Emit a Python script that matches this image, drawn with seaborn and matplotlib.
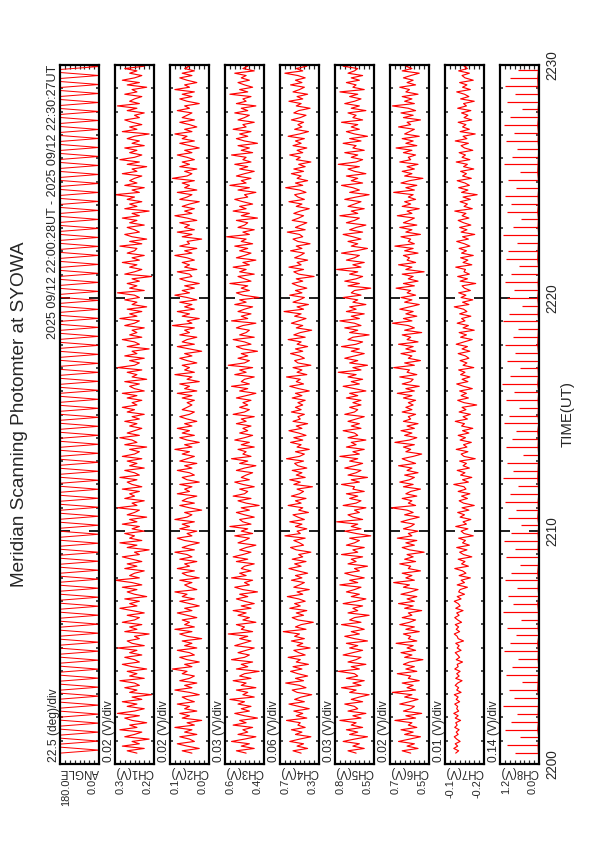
import numpy as np
import matplotlib
matplotlib.use("Agg")
import matplotlib.pyplot as plt
import seaborn as sns

TITLE = "Meridian Scanning Photomter at SYOWA"
SUBTITLE = "2025 09/12 22:00:28UT - 2025 09/12 22:30:27UT"
XLABEL = "TIME(UT)"
time_ticks = [0, 10, 20, 30]
time_tick_labels = ["2200", "2210", "2220", "2230"]
t_start, t_end = 28 / 60, 30 + 27 / 60

channel_names = ["ANGLE", "CH1(V)", "CH2(V)", "CH3(V)", "CH4(V)", "CH5(V)", "CH6(V)", "CH7(V)", "CH8(V)"]
per_div_labels = ["22.5 (deg)/div", "0.02 (V)/div", "0.02 (V)/div", "0.03 (V)/div", "0.06 (V)/div",
                  "0.03 (V)/div", "0.02 (V)/div", "0.01 (V)/div", "0.14 (V)/div"]
per_div = [22.5, 0.02, 0.02, 0.03, 0.06, 0.03, 0.02, 0.01, 0.14]
axis_lo = [0.0, 0.18, -0.02, 0.38, 0.26, 0.54, 0.54, -0.18, 0.04]
max_labels = ["180.0", "0.3", "0.1", "0.6", "0.7", "0.8", "0.7", "-0.1", "1.2"]
min_labels = ["0.0", "0.2", "0.0", "0.4", "0.3", "0.5", "0.5", "-0.2", "0.0"]

# scan angle (deg): one quick 180 -> 0 -> 180 sweep per scan, 78 scans
angle = [180, 0, 180, 180, 0, 180, 180, 0, 180, 180, 0, 180, 180, 0, 180, 180, 0, 180, 180, 0, 180, 180, 0, 180,
         180, 0, 180, 180, 0, 180, 180, 0, 180, 180, 0, 180, 180, 0, 180, 180, 0, 180, 180, 0, 180, 180, 0, 180,
         180, 0, 180, 180, 0, 180, 180, 0, 180, 180, 0, 180, 180, 0, 180, 180, 0, 180, 180, 0, 180, 180, 0, 180,
         180, 0, 180, 180, 0, 180, 180, 0, 180, 180, 0, 180, 180, 0, 180, 180, 0, 180, 180, 0, 180, 180, 0, 180,
         180, 0, 180, 180, 0, 180, 180, 0, 180, 180, 0, 180, 180, 0, 180, 180, 0, 180, 180, 0, 180, 180, 0, 180,
         180, 0, 180, 180, 0, 180, 180, 0, 180, 180, 0, 180, 180, 0, 180, 180, 0, 180, 180, 0, 180, 180, 0, 180,
         180, 0, 180, 180, 0, 180, 180, 0, 180, 180, 0, 180, 180, 0, 180, 180, 0, 180, 180, 0, 180, 180, 0, 180,
         180, 0, 180, 180, 0, 180, 180, 0, 180, 180, 0, 180, 180, 0, 180, 180, 0, 180, 180, 0, 180, 180, 0, 180,
         180, 0, 180, 180, 0, 180, 180, 0, 180, 180, 0, 180, 180, 0, 180, 180, 0, 180, 180, 0, 180, 180, 0, 180,
         180, 0, 180, 180, 0, 180, 180, 0, 180, 180, 0, 180, 180, 0, 180, 180, 0, 180]

ch1 = [0.25,0.29,0.22,0.31,0.24,0.27,0.20,0.30,0.26,0.23,0.32,0.25,0.28,0.21,0.27,0.30,0.24,0.33,0.26,0.22,
       0.29,0.25,0.31,0.23,0.27,0.19,0.28,0.25,0.30,0.24,0.26,0.32,0.22,0.28,0.25,0.29,0.21,0.27,0.31,0.24,
       0.26,0.30,0.23,0.28,0.25,0.33,0.22,0.27,0.29,0.24,0.26,0.20,0.30,0.25,0.28,0.23,0.31,0.26,0.24,0.29,
       0.22,0.27,0.32,0.25,0.28,0.24,0.30,0.21,0.26,0.29,0.25,0.31,0.23,0.27,0.34,0.24,0.28,0.26,0.22,0.30,
       0.25,0.29,0.23,0.27,0.31,0.24,0.26,0.20,0.29,0.25,0.32,0.23,0.28,0.26,0.30,0.22,0.27,0.24,0.31,0.25,
       0.28,0.21,0.29,0.26,0.24,0.33,0.25,0.27,0.22,0.30,0.26,0.28,0.24,0.31,0.23,0.27,0.29,0.25,0.32,0.24,
       0.26,0.30,0.22,0.28,0.25,0.29,0.23,0.31,0.26,0.24,0.28,0.21,0.30,0.25,0.27,0.32,0.24,0.29,0.26,0.23,
       0.28,0.25,0.30,0.24,0.27,0.22,0.29,0.26,0.31,0.25,
       0.27,0.23,0.29,0.25,0.31,0.22,0.26,0.28,0.24,0.30,0.21,0.27,0.25,0.29,0.23,0.33,0.26,0.24,0.28,0.22,
       0.30,0.25,0.27,0.20,0.29,0.24,0.26,0.31,0.23,0.28,0.25,0.27,0.22,0.30,0.26,0.24,0.32,0.25,0.28,0.23,
       0.29,0.21,0.27,0.25,0.30,0.24,0.26,0.33,0.22,0.28,0.25,0.29,0.24,0.27,0.19,0.30,0.26,0.23,0.28,0.25,
       0.31,0.24,0.27,0.22,0.29,0.26,0.25,0.32,0.23,0.28,0.21,0.27,0.30,0.24,0.26,0.29,0.22,0.28,0.25,0.31,
       0.24,0.27,0.20,0.30,0.25,0.28,0.23,0.29,0.26,0.34,0.24,0.27,0.22,0.30,0.25,0.28,0.26,0.23,0.31,0.25,
       0.27,0.21,0.29,0.24,0.32,0.26,0.23,0.28,0.25,0.30,0.22,0.27,0.24,0.29,0.26,0.20,0.31,0.25,0.28,0.23,
       0.27,0.30,0.24,0.26,0.22,0.29,0.25,0.33,0.24,0.28,0.26,0.23,0.30,0.25,0.27,0.21,0.29,0.24,0.31,0.26,
       0.23,0.28,0.25,0.30,0.22,0.27,0.26,0.29,0.24,0.28]

ch2 = [0.05,0.09,0.02,0.07,0.11,0.04,0.06,0.10,0.03,0.08,0.05,0.12,0.04,0.07,0.01,0.09,0.06,0.10,0.03,0.08,
       0.06,0.11,0.04,0.07,0.09,0.02,0.06,0.12,0.05,0.08,0.03,0.10,0.06,0.04,0.09,0.07,0.13,0.05,0.08,0.02,
       0.07,0.10,0.04,0.06,0.11,0.03,0.08,0.05,0.09,0.01,0.07,0.10,0.05,0.12,0.04,0.08,0.06,0.09,0.03,0.07,
       0.11,0.05,0.08,0.02,0.06,0.10,0.04,0.09,0.07,0.12,0.03,0.06,0.08,0.05,0.10,0.02,0.07,0.09,0.04,0.11,
       0.06,0.08,0.03,0.10,0.05,0.07,0.12,0.04,0.09,0.06,0.02,0.08,0.11,0.05,0.07,0.03,0.10,0.06,0.09,0.04,
       0.12,0.07,0.05,0.08,0.01,0.06,0.10,0.04,0.09,0.07,0.03,0.11,0.06,0.08,0.05,0.10,0.02,0.07,0.09,0.04,
       0.06,0.11,0.05,0.08,0.03,0.10,0.07,0.04,0.09,0.06,0.12,0.05,0.08,0.02,0.07,0.10,0.04,0.09,0.06,0.11,
       0.05,0.08,0.03,0.07,0.10,0.06,0.04,0.09,0.07,0.05,
       0.07,0.04,0.09,0.05,0.11,0.03,0.08,0.06,0.10,0.02,0.07,0.05,0.12,0.04,0.08,0.06,0.09,0.03,0.07,0.10,
       0.05,0.08,0.01,0.06,0.11,0.04,0.09,0.07,0.03,0.10,0.06,0.08,0.04,0.13,0.05,0.07,0.02,0.09,0.06,0.11,
       0.04,0.08,0.05,0.10,0.03,0.07,0.12,0.06,0.09,0.04,0.08,0.02,0.07,0.10,0.05,0.06,0.11,0.03,0.08,0.06,
       0.09,0.04,0.07,0.12,0.05,0.08,0.03,0.10,0.06,0.07,0.01,0.09,0.05,0.11,0.04,0.08,0.06,0.10,0.03,0.07,
       0.12,0.05,0.08,0.04,0.09,0.06,0.02,0.10,0.07,0.05,0.11,0.03,0.08,0.06,0.09,0.04,0.13,0.07,0.05,0.08,
       0.03,0.10,0.06,0.09,0.04,0.07,0.11,0.05,0.08,0.02,0.06,0.10,0.04,0.09,0.07,0.12,0.05,0.08,0.03,0.06,
       0.10,0.04,0.09,0.07,0.05,0.11,0.06,0.08,0.02,0.07,0.10,0.05,0.09,0.04,0.12,0.06,0.08,0.03,0.07,0.10,
       0.05,0.09,0.04,0.08,0.06,0.11,0.03,0.07,0.05,0.09]

ch3 = [0.49,0.55,0.44,0.52,0.47,0.58,0.50,0.43,0.54,0.48,0.51,0.45,0.57,0.49,0.53,0.42,0.50,0.56,0.47,0.52,
       0.46,0.54,0.50,0.59,0.44,0.51,0.48,0.55,0.43,0.52,0.49,0.57,0.46,0.53,0.50,0.41,0.55,0.48,0.52,0.45,
       0.58,0.50,0.47,0.54,0.49,0.44,0.56,0.51,0.46,0.53,0.48,0.60,0.45,0.52,0.50,0.55,0.43,0.51,0.47,0.54,
       0.49,0.57,0.46,0.52,0.44,0.50,0.55,0.48,0.53,0.42,0.51,0.56,0.47,0.50,0.45,0.58,0.49,0.53,0.46,0.52,
       0.50,0.44,0.55,0.48,0.57,0.51,0.46,0.53,0.49,0.43,0.54,0.50,0.47,0.56,0.45,0.52,0.48,0.59,0.46,0.51,
       0.53,0.44,0.50,0.55,0.47,0.52,0.41,0.49,0.54,0.46,0.57,0.50,0.48,0.53,0.44,0.51,0.56,0.47,0.52,0.49,
       0.45,0.55,0.50,0.43,0.53,0.48,0.58,0.46,0.51,0.49,0.54,0.44,0.52,0.47,0.56,0.50,0.45,0.53,0.48,0.51,
       0.46,0.55,0.49,0.52,0.44,0.57,0.50,0.47,0.53,0.48,
       0.51,0.46,0.55,0.49,0.43,0.53,0.48,0.58,0.47,0.52,0.50,0.44,0.56,0.49,0.53,0.45,0.60,0.50,0.47,0.54,
       0.48,0.52,0.42,0.51,0.55,0.46,0.50,0.57,0.44,0.53,0.49,0.47,0.55,0.51,0.43,0.58,0.48,0.52,0.46,0.54,
       0.50,0.45,0.56,0.49,0.53,0.41,0.51,0.55,0.47,0.52,0.48,0.59,0.46,0.50,0.54,0.44,0.53,0.49,0.57,0.47,
       0.51,0.43,0.55,0.50,0.46,0.53,0.48,0.56,0.45,0.52,0.49,0.61,0.47,0.51,0.44,0.54,0.50,0.48,0.55,0.42,
       0.52,0.47,0.57,0.49,0.53,0.45,0.51,0.56,0.48,0.50,0.43,0.54,0.47,0.59,0.49,0.52,0.46,0.55,0.50,0.44,
       0.53,0.48,0.56,0.46,0.51,0.49,0.58,0.45,0.52,0.47,0.54,0.42,0.50,0.55,0.48,0.53,0.46,0.57,0.49,0.51,
       0.44,0.54,0.50,0.47,0.56,0.48,0.52,0.43,0.55,0.49,0.51,0.46,0.59,0.48,0.53,0.45,0.50,0.54,0.47,0.52,
       0.49,0.56,0.44,0.51,0.48,0.53,0.46,0.55,0.50,0.47]

ch4 = [0.48,0.58,0.40,0.53,0.45,0.62,0.50,0.36,0.55,0.47,0.60,0.43,0.52,0.49,0.66,0.41,0.54,0.46,0.57,0.38,
       0.51,0.63,0.44,0.56,0.48,0.35,0.53,0.59,0.42,0.50,0.67,0.45,0.55,0.40,0.52,0.61,0.47,0.58,0.39,0.54,
       0.49,0.64,0.43,0.51,0.57,0.37,0.53,0.46,0.60,0.44,0.56,0.50,0.70,0.42,0.55,0.48,0.33,0.52,0.59,0.45,
       0.54,0.41,0.62,0.49,0.56,0.43,0.51,0.65,0.46,0.53,0.38,0.57,0.50,0.44,0.60,0.47,0.55,0.40,0.52,0.63,
       0.48,0.56,0.42,0.59,0.46,0.51,0.36,0.54,0.61,0.45,0.50,0.57,0.43,0.68,0.49,0.53,0.41,0.55,0.47,0.62,
       0.44,0.52,0.58,0.39,0.51,0.46,0.64,0.48,0.55,0.42,0.60,0.50,0.45,0.53,0.34,0.57,0.49,0.62,0.43,0.54,
       0.47,0.59,0.41,0.52,0.56,0.45,0.66,0.50,0.44,0.55,0.38,0.53,0.48,0.61,0.46,0.57,0.42,0.51,0.63,0.47,
       0.54,0.40,0.58,0.49,0.52,0.44,0.60,0.48,0.55,0.46,
       0.52,0.43,0.59,0.47,0.55,0.38,0.51,0.62,0.45,0.54,0.49,0.66,0.41,0.53,0.47,0.58,0.36,0.52,0.56,0.44,
       0.50,0.61,0.46,0.55,0.40,0.53,0.48,0.64,0.43,0.57,0.49,0.35,0.54,0.46,0.60,0.51,0.42,0.56,0.48,0.69,
       0.45,0.53,0.39,0.58,0.50,0.44,0.62,0.47,0.55,0.41,0.52,0.59,0.46,0.54,0.32,0.51,0.57,0.45,0.63,0.48,
       0.53,0.40,0.56,0.49,0.44,0.61,0.47,0.54,0.37,0.52,0.58,0.46,0.50,0.65,0.43,0.55,0.48,0.41,0.59,0.51,
       0.45,0.57,0.49,0.38,0.54,0.47,0.63,0.44,0.52,0.56,0.42,0.50,0.67,0.46,0.55,0.40,0.53,0.48,0.60,0.45,
       0.57,0.43,0.51,0.36,0.54,0.49,0.62,0.46,0.53,0.41,0.58,0.48,0.55,0.44,0.64,0.50,0.39,0.56,0.47,0.52,
       0.45,0.60,0.49,0.42,0.57,0.51,0.37,0.54,0.48,0.63,0.46,0.53,0.40,0.58,0.50,0.44,0.61,0.47,0.55,0.43,
       0.52,0.68,0.46,0.54,0.41,0.57,0.49,0.45,0.59,0.48]

ch5 = [0.65,0.70,0.60,0.67,0.63,0.73,0.66,0.58,0.69,0.64,0.71,0.61,0.68,0.65,0.75,0.62,0.67,0.59,0.70,0.64,
       0.66,0.72,0.61,0.68,0.63,0.57,0.69,0.65,0.74,0.62,0.67,0.60,0.71,0.64,0.66,0.76,0.63,0.68,0.59,0.70,
       0.65,0.62,0.73,0.67,0.61,0.69,0.64,0.71,0.58,0.66,0.72,0.63,0.68,0.60,0.65,0.74,0.62,0.69,0.66,0.57,
       0.70,0.64,0.67,0.61,0.73,0.65,0.59,0.68,0.63,0.71,0.66,0.62,0.75,0.64,0.69,0.60,0.67,0.72,0.63,0.66,
       0.58,0.70,0.65,0.68,0.61,0.74,0.64,0.67,0.60,0.71,0.66,0.63,0.69,0.56,0.65,0.72,0.62,0.68,0.64,0.77,
       0.61,0.67,0.70,0.63,0.66,0.59,0.73,0.65,0.62,0.69,0.64,0.71,0.60,0.67,0.66,0.74,0.63,0.68,0.58,0.70,
       0.65,0.62,0.72,0.66,0.61,0.69,0.64,0.75,0.63,0.67,0.60,0.71,0.65,0.68,0.59,0.70,0.64,0.66,0.73,0.62,
       0.68,0.63,0.70,0.65,0.60,0.72,0.66,0.64,0.69,0.62,
       0.67,0.62,0.71,0.64,0.69,0.59,0.66,0.73,0.63,0.68,0.61,0.70,0.65,0.76,0.62,0.67,0.58,0.69,0.64,0.72,
       0.66,0.60,0.68,0.63,0.74,0.65,0.61,0.70,0.67,0.57,0.69,0.64,0.72,0.62,0.66,0.75,0.63,0.68,0.60,0.71,
       0.65,0.69,0.59,0.67,0.64,0.73,0.62,0.68,0.66,0.56,0.70,0.63,0.72,0.65,0.61,0.69,0.64,0.77,0.62,0.67,
       0.60,0.71,0.66,0.63,0.74,0.65,0.58,0.68,0.64,0.70,0.62,0.67,0.73,0.61,0.69,0.65,0.59,0.71,0.66,0.63,
       0.75,0.64,0.68,0.60,0.70,0.66,0.62,0.72,0.65,0.57,0.69,0.63,0.67,0.74,0.61,0.68,0.64,0.71,0.59,0.66,
       0.70,0.63,0.76,0.65,0.61,0.68,0.64,0.72,0.60,0.67,0.65,0.73,0.62,0.69,0.58,0.66,0.71,0.63,0.68,0.64,
       0.74,0.61,0.67,0.65,0.70,0.59,0.68,0.63,0.72,0.66,0.62,0.69,0.64,0.75,0.60,0.67,0.65,0.71,0.63,0.68,
       0.61,0.70,0.66,0.64,0.73,0.62,0.68,0.65,0.59,0.69]

ch6 = [0.615,0.650,0.585,0.630,0.600,0.665,0.620,0.575,0.640,0.605,0.655,0.590,0.625,0.610,0.680,0.595,0.635,0.570,0.645,0.615,
       0.600,0.660,0.620,0.585,0.640,0.610,0.690,0.595,0.630,0.605,0.650,0.580,0.625,0.615,0.670,0.590,0.635,0.600,0.645,0.620,
       0.565,0.640,0.610,0.655,0.595,0.630,0.605,0.675,0.590,0.625,0.615,0.645,0.580,0.635,0.600,0.660,0.620,0.595,0.650,0.610,
       0.625,0.570,0.640,0.605,0.665,0.600,0.630,0.590,0.655,0.615,0.585,0.645,0.620,0.685,0.600,0.635,0.610,0.650,0.575,0.625,
       0.615,0.660,0.595,0.640,0.605,0.630,0.560,0.620,0.650,0.600,0.635,0.590,0.670,0.610,0.625,0.585,0.645,0.615,0.600,0.655,
       0.620,0.580,0.640,0.605,0.630,0.695,0.595,0.625,0.610,0.650,0.590,0.635,0.615,0.575,0.645,0.605,0.660,0.620,0.600,0.640,
       0.585,0.630,0.610,0.665,0.595,0.625,0.650,0.605,0.570,0.635,0.615,0.645,0.600,0.680,0.620,0.590,0.640,0.610,0.655,0.600,
       0.630,0.585,0.645,0.615,0.625,0.595,0.650,0.610,0.635,0.605,
       0.625,0.595,0.645,0.610,0.670,0.600,0.635,0.580,0.650,0.615,0.605,0.660,0.590,0.630,0.620,0.685,0.600,0.640,0.575,0.625,
       0.610,0.655,0.595,0.635,0.605,0.665,0.585,0.630,0.615,0.650,0.570,0.640,0.600,0.625,0.690,0.610,0.645,0.590,0.635,0.605,
       0.660,0.620,0.580,0.640,0.610,0.655,0.595,0.630,0.615,0.675,0.600,0.645,0.585,0.625,0.605,0.650,0.560,0.635,0.610,0.665,
       0.595,0.630,0.620,0.645,0.585,0.640,0.605,0.680,0.600,0.625,0.615,0.655,0.575,0.635,0.610,0.660,0.590,0.645,0.620,0.600,
       0.670,0.610,0.630,0.580,0.650,0.615,0.640,0.595,0.625,0.605,0.685,0.600,0.635,0.590,0.655,0.620,0.565,0.640,0.610,0.650,
       0.600,0.630,0.585,0.660,0.615,0.625,0.595,0.645,0.610,0.675,0.590,0.635,0.605,0.650,0.580,0.640,0.620,0.600,0.665,0.615,
       0.630,0.575,0.645,0.605,0.655,0.595,0.625,0.690,0.600,0.640,0.610,0.650,0.585,0.635,0.620,0.660,0.595,0.630,0.605,0.645,
       0.615,0.580,0.650,0.610,0.635,0.600,0.670,0.620,0.590,0.640]

ch7 = [-0.122,-0.128,-0.118,-0.126,-0.121,-0.131,-0.124,-0.119,-0.127,-0.123,-0.129,-0.120,-0.125,-0.122,-0.132,-0.121,-0.127,-0.118,-0.128,-0.124,
       -0.126,-0.120,-0.130,-0.123,-0.127,-0.119,-0.133,-0.124,-0.128,-0.121,-0.126,-0.135,-0.122,-0.129,-0.124,-0.131,-0.120,-0.127,-0.125,-0.136,
       -0.123,-0.130,-0.126,-0.121,-0.133,-0.125,-0.129,-0.122,-0.138,-0.127,
       -0.125,-0.119,-0.130,-0.123,-0.128,-0.121,-0.134,-0.126,-0.120,-0.129,-0.124,-0.137,-0.122,-0.131,-0.127,-0.119,-0.133,-0.125,-0.140,-0.128,
       -0.131,-0.146,-0.125,-0.140,-0.133,-0.152,-0.129,-0.143,-0.136,-0.120,-0.148,-0.134,-0.141,-0.127,-0.155,-0.138,-0.130,-0.145,-0.124,-0.150,
       -0.136,-0.142,-0.128,-0.158,-0.139,-0.133,-0.147,-0.122,-0.144,-0.137,-0.153,-0.131,-0.140,-0.126,-0.149,-0.135,-0.160,-0.138,-0.129,-0.146,
       -0.134,-0.151,-0.127,-0.143,-0.139,-0.118,-0.148,-0.136,-0.155,-0.132,-0.141,-0.125,-0.150,-0.137,-0.144,-0.130,-0.162,-0.139,-0.133,-0.147,
       -0.123,-0.145,-0.138,-0.154,-0.131,-0.142,-0.127,-0.149,-0.136,-0.157,-0.134,-0.140,-0.121,-0.146,-0.137,-0.152,-0.129,-0.143,-0.135,-0.165,
       -0.139,-0.126,-0.148,-0.133,-0.144,-0.130,-0.156,-0.138,-0.124,-0.147,-0.135,-0.151,-0.132,-0.141,-0.128,-0.159,-0.137,-0.145,-0.131,-0.149,
       -0.142,-0.127,-0.151,-0.135,-0.146,-0.123,-0.139,-0.156,-0.132,-0.144,-0.129,-0.160,-0.137,-0.148,-0.125,-0.141,-0.134,-0.153,-0.130,-0.145,
       -0.138,-0.119,-0.149,-0.136,-0.157,-0.133,-0.143,-0.128,-0.152,-0.140,-0.135,-0.163,-0.131,-0.146,-0.126,-0.150,-0.139,-0.142,-0.122,-0.155,
       -0.137,-0.147,-0.132,-0.158,-0.134,-0.144,-0.129,-0.151,-0.140,-0.124,-0.148,-0.136,-0.161,-0.133,-0.145,-0.130,-0.153,-0.138,-0.127,-0.149,
       -0.135,-0.143,-0.120,-0.156,-0.139,-0.146,-0.131,-0.152,-0.137,-0.166,-0.134,-0.147,-0.128,-0.150,-0.141,-0.125,-0.154,-0.136,-0.144,-0.132,
       -0.159,-0.138,-0.146,-0.123,-0.151,-0.135,-0.142,-0.129,-0.157,-0.140,-0.133,-0.148,-0.121,-0.145,-0.137,-0.162,-0.131,-0.150,-0.136,-0.143,
       -0.127,-0.155,-0.139,-0.147,-0.134,-0.153,-0.126,-0.144,-0.138,-0.160,-0.132,-0.149,-0.140,-0.124,-0.152,-0.136,-0.145,-0.130,-0.158,-0.141,
       -0.135,-0.150,-0.128,-0.146,-0.139,-0.164,-0.133,-0.148,-0.137,-0.143]

ch8_base = [0.06,0.07,0.05,0.08,0.06,0.07,0.06,0.05,0.08,0.07,
            0.06,0.05,0.07,0.06,0.08,0.05,0.07,0.06,0.06,0.08,
            0.05,0.07,0.06,0.08,0.06,0.05,0.07,0.06,0.07,0.05,
            0.08,0.06,0.07,0.05,0.06,0.08,0.07,0.06,0.05,0.07,
            0.06,0.08,0.05,0.07,0.06,0.07,0.05,0.08,0.06,0.07,
            0.05,0.06,0.08,0.07,0.06,0.05,0.07,0.06,0.08,0.06,
            0.07,0.05,0.06,0.08,0.07,0.06,0.05,0.07,0.06,0.08,
            0.06,0.07,0.05,0.06,0.08,0.07,0.06,0.05,0.07,0.06,
            0.08,0.06,0.07,0.05,0.06,0.07,0.08,0.06,0.05,0.07]
ch8_peak = [0.72,0.95,0.58,1.02,0.84,0.66,1.06,0.77,0.91,0.52,
            0.98,0.81,0.63,1.04,0.88,0.70,0.97,0.55,1.08,0.79,
            0.92,0.67,1.01,0.85,0.60,0.99,0.74,1.05,0.83,0.57,
            0.94,0.71,1.03,0.86,0.64,1.07,0.78,0.96,0.50,1.00,
            0.82,0.69,1.04,0.90,0.61,0.98,0.76,1.09,0.87,0.59,
            0.95,0.73,1.02,0.80,0.65,1.06,0.89,0.54,0.97,0.75,
            1.03,0.84,0.62,1.00,0.92,0.68,1.08,0.79,0.56,0.96,
            0.85,1.01,0.71,0.93,0.60,1.05,0.82,0.66,0.99,0.77,
            1.04,0.88,0.53,0.97,0.74,1.02,0.86,0.63,1.07,0.90]

series = [angle, ch1, ch2, ch3, ch4, ch5, ch6, ch7]

sns.set_style("white")
plt.rcParams["font.family"] = ["Liberation Sans", "DejaVu Sans"]

W, H = 595, 842
fig = plt.figure(figsize=(W / 72, H / 72), dpi=72)

panel_left0, panel_step, panel_w = 60, 55, 39
panel_top, panel_bottom = 65, 764

axes = []
for i in range(9):
    left = panel_left0 + panel_step * i
    ax = fig.add_axes([left / W, (H - panel_bottom) / H, panel_w / W, (panel_bottom - panel_top) / H])
    axes.append(ax)

for i, ax in enumerate(axes):
    if i < 8:
        vals = series[i]
        t = np.linspace(t_start, t_end, len(vals))
        sns.lineplot(x=vals, y=t, orient="y", sort=False, estimator=None, ax=ax,
                     color="red", linewidth=1.0 if i == 0 else 1.15)
    else:
        t = np.linspace(t_start, t_end, len(ch8_base))
        sns.lineplot(x=ch8_base, y=t, orient="y", sort=False, estimator=None, ax=ax,
                     color="red", linewidth=0.9)
        ax.hlines(t, ch8_base, ch8_peak, color="red", linewidth=1.2, snap=True)
    lo = axis_lo[i]
    d = per_div[i]
    hi = lo + 8 * d
    ax.set_xlim(hi, lo)
    ax.set_ylim(0, 30)
    ax.set_xlabel("")
    ax.set_ylabel("")
    ax.set_xticks([lo + k * d for k in range(1, 8)])
    ax.set_yticks(time_ticks)
    ax.set_yticks(np.arange(0, 31, 1), minor=True)
    ax.tick_params(axis="y", which="major", direction="in", length=10, width=2,
                   left=True, right=True, labelleft=False, labelright=False)
    ax.tick_params(axis="y", which="minor", direction="in", length=3, width=1.6,
                   left=True, right=True)
    ax.tick_params(axis="x", which="major", direction="in", length=4, width=1.2,
                   top=True, bottom=True, labelbottom=False, labeltop=False)
    for s in ax.spines.values():
        s.set_linewidth(2.2)
        s.set_color("black")
        s.set_visible(True)

    ax.annotate(per_div_labels[i], xy=(0, 0), xycoords="axes fraction", xytext=(-6, 2),
                textcoords="offset points", rotation=90, ha="center", va="bottom", fontsize=12)
    ax.annotate(channel_names[i], xy=(0.5, 0), xycoords="axes fraction", xytext=(0, -2),
                textcoords="offset points", rotation=180, ha="center", va="top", fontsize=11.5)
    ax.annotate(max_labels[i], xy=(0, 0), xycoords="axes fraction", xytext=(1, -15),
                textcoords="offset points", rotation=90, ha="left", va="top", fontsize=11)
    ax.annotate(min_labels[i], xy=(1, 0), xycoords="axes fraction", xytext=(-1, -15),
                textcoords="offset points", rotation=90, ha="right", va="top", fontsize=11)

last = axes[-1]
for tk, lab in zip(time_ticks, time_tick_labels):
    last.annotate(lab, xy=(1, tk), xycoords=("axes fraction", "data"), xytext=(6, 0),
                  textcoords="offset points", rotation=90, ha="left", va="center", fontsize=13.5)

mid_y = (panel_top + panel_bottom) / 2
fig.text(20 / W, 1 - mid_y / H, TITLE, rotation=90, ha="center", va="center", fontsize=19)
fig.text(53 / W, 1 - panel_top / H, SUBTITLE, rotation=90, ha="center", va="top", fontsize=12.5)
fig.text(568 / W, 1 - mid_y / H, XLABEL, rotation=90, ha="center", va="center", fontsize=15)

fig.savefig("out.png", dpi=72)
